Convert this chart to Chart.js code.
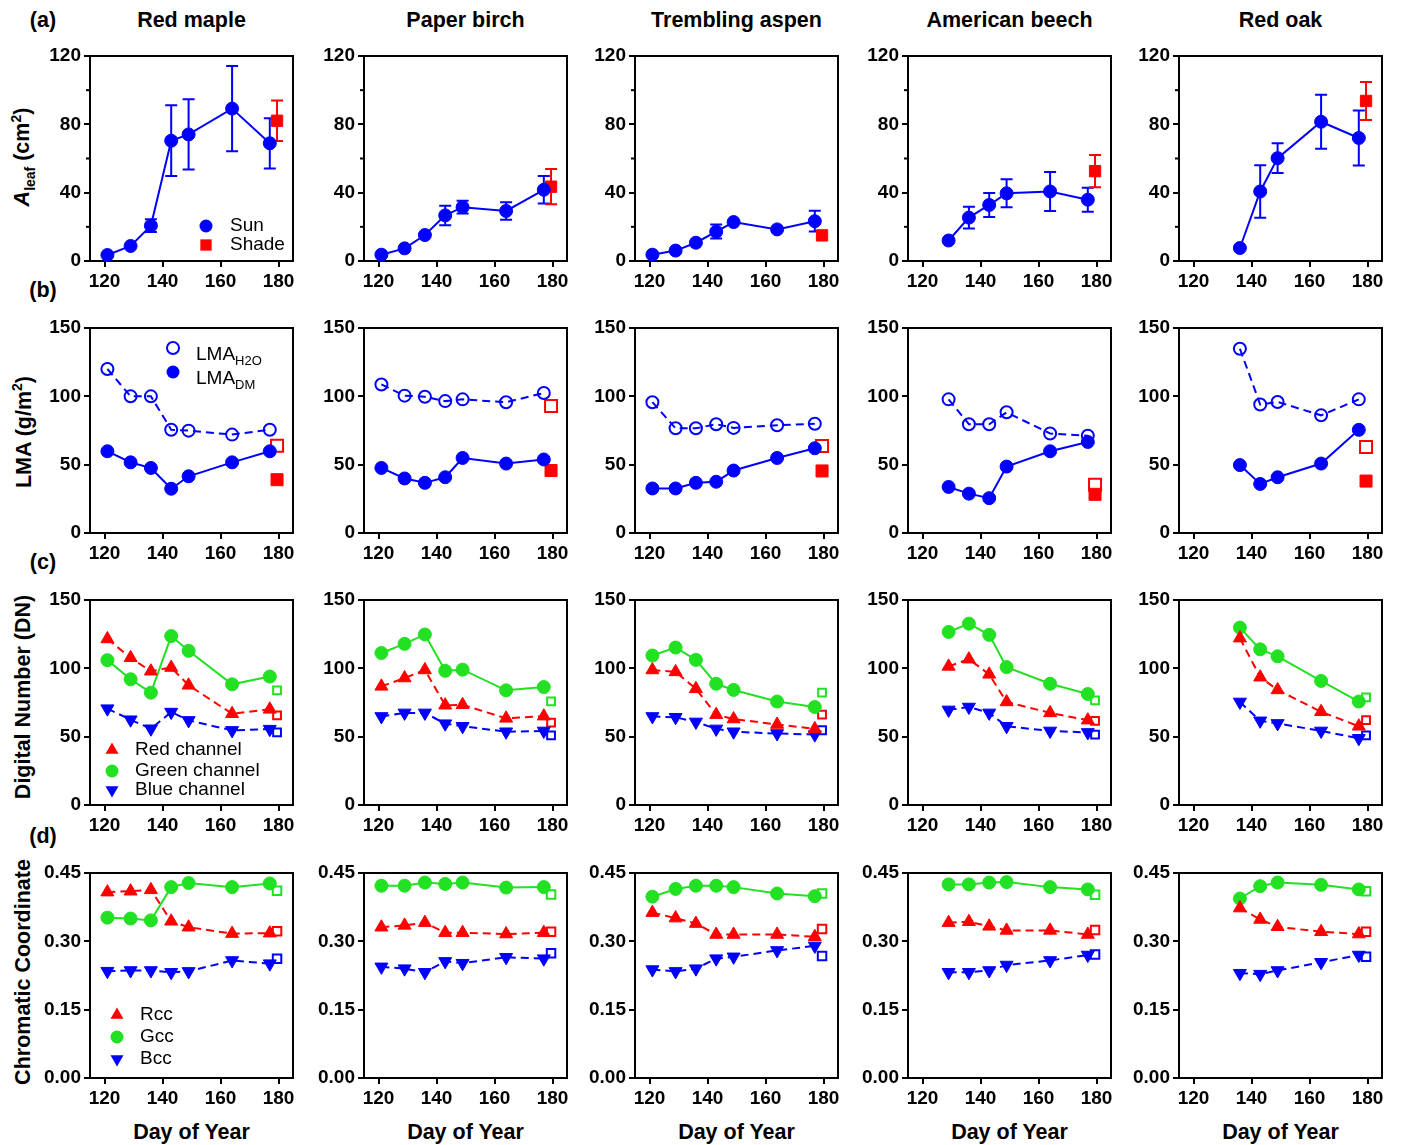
<!DOCTYPE html>
<html>
<head>
<meta charset="utf-8">
<script src="https://cdn.jsdelivr.net/npm/chart.js@4.4.0/dist/chart.umd.min.js"></script>
<style>
  body { margin: 0; background: #fff; width: 1401px; height: 1145px; position: relative; overflow: hidden;
         font-family: 'Liberation Sans', Arial, sans-serif; }
  canvas { position: absolute; }
  .lbl { position: absolute; font-weight: bold; font-size: 21.5px; color: #000; white-space: nowrap;
         transform: translate(-50%, -50%); }
  .ytitle { position: absolute; font-weight: bold; font-size: 21.5px; color: #000; white-space: nowrap;
            transform: translate(-50%, -50%) rotate(-90deg); }
  sub, sup { font-size: 65%; }
</style>
</head>
<body>
<div id="labels"></div>
<script>
const species = ['Red maple', 'Paper birch', 'Trembling aspen', 'American beech', 'Red oak'];
const panelLetters = ['(a)', '(b)', '(c)', '(d)'];

// day of year of the sun-leaf samples, per species
const sunDays = [
  [121, 129, 136, 143, 149, 164, 177],
  [121, 129, 136, 143, 149, 164, 177],
  [121, 129, 136, 143, 149, 164, 177],
  [129, 136, 143, 149, 164, 177],
  [136, 143, 149, 164, 177]
];
const shadeDay = 179.5;

const xTicks = [120, 140, 160, 180];
const aleafTicks = [0, 40, 80, 120];
const aleafMinor = [20, 60, 100];
const lmaTicks = [0, 50, 100, 150];
const dnTicks = [0, 50, 100, 150];
const ccTicks = [0, 0.15, 0.30, 0.45];

// (a) leaf area (cm2)
const aleafSun = [
  [3.5, 8.8, 20.7, 70.4, 74.1, 89.2, 68.9],
  [3.7, 7.4, 15.2, 26.7, 31.5, 29.3, 41.7],
  [3.7, 6.1, 10.7, 17.2, 22.8, 18.5, 23.3],
  [12.0, 25.4, 32.8, 39.6, 40.7, 35.9],
  [7.6, 40.7, 60.2, 81.5, 72.0]
];
const aleafSunErr = [
  [0, 0, 3.7, 20.7, 20.6, 25, 14.7],
  [0, 0, 0, 5.7, 3.7, 5.1, 8],
  [0, 0, 0, 4.1, 0, 0, 6.1],
  [0, 6.4, 7, 8.2, 11.4, 7],
  [0, 15.4, 8.7, 15.8, 16.1]
];
const aleafShade = [82.1, 43.5, 15.0, 52.6, 93.7];
const aleafShadeErr = [11.8, 10.3, 0, 9.4, 11.1];

// (b) LMA (g/m2)
const lmaH2O = [
  [120, 100, 100, 75.6, 74.9, 72, 75.6],
  [108.7, 100.5, 99.7, 96.5, 97.8, 95.7, 102.4],
  [95.7, 76.6, 76.6, 79.6, 76.9, 78.8, 79.9],
  [97.8, 79.6, 79.6, 88.3, 72.8, 71.2],
  [134.8, 94, 95.9, 86.1, 97.8]
];
const lmaDM = [
  [59.8, 51.7, 47.6, 32.4, 41.5, 51.7, 59.8],
  [47.6, 39.9, 36.7, 40.8, 54.9, 50.8, 53.8],
  [32.6, 32.6, 36.7, 37.5, 45.7, 54.9, 62],
  [33.7, 28.8, 25.5, 48.6, 59.8, 66.6],
  [49.7, 35.9, 40.8, 50.8, 75.5]
];
const lmaH2OShade = [63.9, 92.9, 63.6, 35.3, 63];
const lmaDMShade = [39, 45.7, 45.4, 28.3, 38];

// (c) digital numbers
const dnRed = [
  [121.5, 107.7, 97.9, 100.6, 87.6, 66.8, 70],
  [86.8, 92.9, 98.8, 73, 73.3, 63.4, 65],
  [98.8, 97.4, 85, 66.1, 62.9, 58.9, 55.7],
  [101.4, 106.7, 95.6, 75.4, 67.4, 62.1],
  [122.1, 93.5, 84.2, 68.2, 57.6]
];
const dnGreen = [
  [106, 92, 82.2, 123.6, 112.8, 88.3, 94],
  [111.2, 117.9, 124.8, 98.2, 99, 83.9, 86.3],
  [109.4, 115.2, 106.2, 88.7, 84.2, 75.7, 71.7],
  [126.6, 132.7, 124.5, 100.9, 88.7, 81.2],
  [129.8, 113.9, 108.8, 90.8, 75.7]
];
const dnBlue = [
  [70.5, 62.4, 55.8, 68, 61.9, 54.6, 55.5],
  [64.8, 67.4, 67.4, 59.5, 57.6, 53.6, 54.2],
  [64.8, 64.2, 60.8, 55.7, 53.6, 52.3, 51.5],
  [69.6, 71.7, 67.4, 57.6, 54.2, 53.1],
  [75.4, 61.6, 59.7, 54.2, 48.8]
];
const dnRedShade = [65.6, 60.3, 66.1, 61.6, 62.1];
const dnGreenShade = [83.9, 75.9, 82.3, 76.5, 78.8];
const dnBlueShade = [53.1, 51, 54.7, 51.5, 51];

// (d) chromatic coordinates
const ccRed = [
  [0.408, 0.410, 0.413, 0.344, 0.331, 0.317, 0.318],
  [0.331, 0.335, 0.341, 0.319, 0.319, 0.316, 0.319],
  [0.363, 0.351, 0.339, 0.315, 0.315, 0.315, 0.310],
  [0.341, 0.343, 0.333, 0.324, 0.324, 0.315],
  [0.373, 0.348, 0.332, 0.321, 0.316]
];
const ccGreen = [
  [0.352, 0.350, 0.346, 0.419, 0.428, 0.419, 0.427],
  [0.422, 0.422, 0.429, 0.426, 0.429, 0.418, 0.419],
  [0.398, 0.415, 0.422, 0.422, 0.419, 0.405, 0.399],
  [0.425, 0.425, 0.429, 0.430, 0.419, 0.414],
  [0.394, 0.421, 0.429, 0.424, 0.414]
];
const ccBlue = [
  [0.2345, 0.236, 0.236, 0.232, 0.234, 0.258, 0.251],
  [0.244, 0.240, 0.232, 0.256, 0.252, 0.265, 0.262],
  [0.238, 0.234, 0.240, 0.262, 0.266, 0.280, 0.290],
  [0.232, 0.232, 0.236, 0.248, 0.258, 0.270],
  [0.230, 0.228, 0.236, 0.254, 0.270]
];
const ccRedShade = [0.322, 0.321, 0.327, 0.325, 0.321];
const ccGreenShade = [0.411, 0.403, 0.405, 0.402, 0.410];
const ccBlueShade = [0.262, 0.274, 0.268, 0.271, 0.266];

const BLUE = '#0000ff', RED = '#ff0000', GREEN = '#22e022';
const FONT = "'Liberation Sans', Arial, sans-serif";
const DASH = [8, 5];

// layout of the grid (plot area corners)
const plotLefts = [90, 364, 635, 908, 1179];
const plotTops = [56, 328, 600, 873];
const plotW = 203, plotH = 205;
const padL = 55, padT = 12, padR = 15, padB = 34;

Chart.defaults.font.family = FONT;

function drawMarker(ctx, style, x, y, r, color, open, down) {
  ctx.beginPath();
  if (style === 'circle') {
    ctx.arc(x, y, r, 0, Math.PI * 2);
  } else if (style === 'rect') {
    const s = r * Math.SQRT1_2;
    ctx.rect(x - s, y - s, 2 * s, 2 * s);
  } else {
    const d = down ? -1 : 1;
    ctx.moveTo(x, y - d * r);
    ctx.lineTo(x + r * 0.866, y + d * r / 2);
    ctx.lineTo(x - r * 0.866, y + d * r / 2);
    ctx.closePath();
  }
  ctx.lineWidth = 2;
  ctx.strokeStyle = color;
  if (open) {
    ctx.stroke();
  } else {
    ctx.fillStyle = color;
    ctx.fill();
  }
}

// box round the plot area
const framePlugin = {
  id: 'frame',
  beforeDatasetsDraw(chart) {
    const { ctx, chartArea: a } = chart;
    ctx.save();
    ctx.strokeStyle = '#000';
    ctx.lineWidth = 2;
    ctx.strokeRect(a.left, a.top, a.right - a.left, a.bottom - a.top);
    ctx.restore();
  }
};

// short unlabeled ticks on the y axis
const minorTickPlugin = {
  id: 'minorTicks',
  afterDraw(chart, args, opts) {
    if (!opts.values) return;
    const { ctx, chartArea: a } = chart;
    const y = chart.scales.y;
    ctx.save();
    ctx.strokeStyle = '#000';
    ctx.lineWidth = 2;
    opts.values.forEach(v => {
      const py = y.getPixelForValue(v);
      ctx.beginPath();
      ctx.moveTo(a.left - 4, py);
      ctx.lineTo(a.left, py);
      ctx.stroke();
    });
    ctx.restore();
  }
};

// vertical error bars with caps
const errorBarPlugin = {
  id: 'errorBars',
  beforeDatasetsDraw(chart) {
    const { ctx } = chart;
    const y = chart.scales.y;
    chart.data.datasets.forEach((ds, i) => {
      if (!ds.errorBars) return;
      const meta = chart.getDatasetMeta(i);
      ctx.save();
      ctx.strokeStyle = ds.borderColor;
      ctx.lineWidth = 2;
      meta.data.forEach((pt, j) => {
        const e = ds.errorBars[j];
        if (!e) return;
        const v = ds.data[j].y;
        const top = y.getPixelForValue(v + e), bot = y.getPixelForValue(v - e);
        ctx.beginPath();
        ctx.moveTo(pt.x, top); ctx.lineTo(pt.x, bot);
        ctx.moveTo(pt.x - 6, top); ctx.lineTo(pt.x + 6, top);
        ctx.moveTo(pt.x - 6, bot); ctx.lineTo(pt.x + 6, bot);
        ctx.stroke();
      });
      ctx.restore();
    });
  }
};

// legend drawn inside the plot area
const insideLegendPlugin = {
  id: 'insideLegend',
  afterDraw(chart, args, opts) {
    if (!opts.items) return;
    const { ctx, chartArea: a } = chart;
    ctx.save();
    opts.items.forEach(it => {
      const mx = a.left + opts.markerX, my = a.top + it.y;
      drawMarker(ctx, it.style, mx, my, it.radius, it.color, it.open, it.down);
      ctx.fillStyle = '#000';
      ctx.font = '19px ' + FONT;
      ctx.textBaseline = 'middle';
      ctx.textAlign = 'left';
      const tx = a.left + opts.textX, ty = my + (opts.textDy || 0);
      ctx.fillText(it.label, tx, ty);
      if (it.sub) {
        const w = ctx.measureText(it.label).width;
        ctx.font = '13px ' + FONT;
        ctx.fillText(it.sub, tx + w, ty + 6);
      }
    });
    ctx.restore();
  }
};

function series(days, vals, color, style, extra) {
  return Object.assign({
    data: days.map((d, i) => ({ x: d, y: vals[i] })),
    borderColor: color,
    backgroundColor: color,
    borderWidth: 2,
    pointStyle: style,
    pointRadius: 6.5,
    pointBackgroundColor: color,
    pointBorderColor: color,
    pointBorderWidth: 1,
    showLine: true,
    tension: 0,
    clip: false
  }, extra || {});
}

function makePanel(row, col, datasets, yTicks, yMax, fmt, minor, legend) {
  const cv = document.createElement('canvas');
  const w = padL + plotW + padR, h = padT + plotH + padB;
  cv.width = w; cv.height = h;
  cv.style.width = w + 'px'; cv.style.height = h + 'px';
  cv.style.left = (plotLefts[col] - padL) + 'px';
  cv.style.top = (plotTops[row] - padT) + 'px';
  document.body.appendChild(cv);

  const tickFont = { family: FONT, size: 19, weight: 'bold' };
  const grid = { display: true, drawOnChartArea: false, drawTicks: true, tickLength: 6,
                 tickWidth: 2, tickColor: '#000', color: '#000', lineWidth: 2 };

  new Chart(cv, {
    type: 'line',
    data: { datasets: datasets },
    options: {
      responsive: false,
      animation: false,
      devicePixelRatio: 1,
      events: [],
      layout: { padding: { left: 0, top: padT, right: padR, bottom: 0 } },
      plugins: {
        legend: { display: false },
        tooltip: { enabled: false },
        minorTicks: { values: minor },
        insideLegend: legend || {}
      },
      scales: {
        x: {
          type: 'linear', min: 115, max: 185,
          afterBuildTicks: s => { s.ticks = xTicks.map(v => ({ value: v })); },
          afterFit: s => { s.height = padB; s.paddingLeft = 0; s.paddingRight = 0; },
          grid: grid,
          border: { display: false },
          ticks: { color: '#000', font: tickFont, padding: 3, maxRotation: 0, autoSkip: false,
                   callback: v => String(v) }
        },
        y: {
          type: 'linear', min: 0, max: yMax,
          afterBuildTicks: s => { s.ticks = yTicks.map(v => ({ value: v })); },
          afterFit: s => { s.width = padL; s.paddingTop = 0; s.paddingBottom = 0; },
          grid: grid,
          border: { display: false },
          ticks: { color: '#000', font: tickFont, padding: 3, autoSkip: false, callback: fmt }
        }
      }
    },
    plugins: [framePlugin, minorTickPlugin, errorBarPlugin, insideLegendPlugin]
  });
}

const intFmt = v => String(v);
const ccFmt = v => v.toFixed(2);

species.forEach((name, c) => {
  const days = sunDays[c];

  // (a) leaf area
  makePanel(0, c, [
    series(days, aleafSun[c], BLUE, 'circle', { errorBars: aleafSunErr[c] }),
    series([shadeDay], [aleafShade[c]], RED, 'rect', { showLine: false, pointRadius: 8, errorBars: [aleafShadeErr[c]] })
  ], aleafTicks, 120, intFmt, aleafMinor, c === 0 ? {
    markerX: 116, textX: 140,
    items: [
      { style: 'circle', radius: 6.5, color: BLUE, label: 'Sun', y: 170 },
      { style: 'rect', radius: 8, color: RED, label: 'Shade', y: 189 }
    ]
  } : null);

  // (b) LMA
  makePanel(1, c, [
    series(days, lmaH2O[c], BLUE, 'circle', { borderDash: DASH, pointRadius: 6, pointBorderWidth: 2,
                                               pointBackgroundColor: 'rgba(0,0,0,0)' }),
    series(days, lmaDM[c], BLUE, 'circle', {}),
    series([shadeDay], [lmaH2OShade[c]], RED, 'rect', { showLine: false, pointRadius: 8.5, pointBorderWidth: 2,
                                                       pointBackgroundColor: 'rgba(0,0,0,0)' }),
    series([shadeDay], [lmaDMShade[c]], RED, 'rect', { showLine: false, pointRadius: 8.5 })
  ], lmaTicks, 150, intFmt, null, c === 0 ? {
    markerX: 83, textX: 106, textDy: 7,
    items: [
      { style: 'circle', radius: 6, color: BLUE, open: true, label: 'LMA', sub: 'H2O', y: 20 },
      { style: 'circle', radius: 6.5, color: BLUE, label: 'LMA', sub: 'DM', y: 44 }
    ]
  } : null);

  // (c) digital number
  const openSq = (val, color, r) => series([shadeDay], [val], color, 'rect',
    { showLine: false, pointRadius: r, pointBorderWidth: 2, pointBackgroundColor: 'rgba(0,0,0,0)' });
  makePanel(2, c, [
    series(days, dnRed[c], RED, 'triangle', { borderDash: DASH, pointRadius: 7.5 }),
    series(days, dnGreen[c], GREEN, 'circle', {}),
    series(days, dnBlue[c], BLUE, 'triangle', { borderDash: DASH, pointRadius: 7.5, pointRotation: 180 }),
    openSq(dnRedShade[c], RED, 5.5),
    openSq(dnGreenShade[c], GREEN, 5.5),
    openSq(dnBlueShade[c], BLUE, 5.5)
  ], dnTicks, 150, intFmt, null, c === 0 ? {
    markerX: 22, textX: 45,
    items: [
      { style: 'triangle', radius: 7.5, color: RED, label: 'Red channel', y: 150 },
      { style: 'circle', radius: 6.5, color: GREEN, label: 'Green channel', y: 171 },
      { style: 'triangle', radius: 7.5, color: BLUE, down: true, label: 'Blue channel', y: 190 }
    ]
  } : null);

  // (d) chromatic coordinates
  makePanel(3, c, [
    series(days, ccRed[c], RED, 'triangle', { borderDash: DASH, pointRadius: 7.5 }),
    series(days, ccGreen[c], GREEN, 'circle', {}),
    series(days, ccBlue[c], BLUE, 'triangle', { borderDash: DASH, pointRadius: 7.5, pointRotation: 180 }),
    openSq(ccRedShade[c], RED, 6),
    openSq(ccGreenShade[c], GREEN, 6),
    openSq(ccBlueShade[c], BLUE, 6)
  ], ccTicks, 0.45, ccFmt, null, c === 0 ? {
    markerX: 27, textX: 50,
    items: [
      { style: 'triangle', radius: 7.5, color: RED, label: 'Rcc', y: 142 },
      { style: 'circle', radius: 6.5, color: GREEN, label: 'Gcc', y: 164 },
      { style: 'triangle', radius: 7.5, color: BLUE, down: true, label: 'Bcc', y: 186 }
    ]
  } : null);
});

// text round the grid
const labels = document.getElementById('labels');
function addText(cls, html, x, y) {
  const d = document.createElement('div');
  d.className = cls;
  d.innerHTML = html;
  d.style.left = x + 'px';
  d.style.top = y + 'px';
  labels.appendChild(d);
}
const letterY = [20, 290, 562, 836];
panelLetters.forEach((t, r) => addText('lbl', t, 43, letterY[r]));
species.forEach((name, c) => {
  const cx = plotLefts[c] + plotW / 2;
  addText('lbl', name, cx, 20);
  addText('lbl', 'Day of Year', cx, 1132);
});
addText('ytitle', '<i>A</i><sub>leaf</sub> (cm<sup>2</sup>)', 23, 157);
addText('ytitle', 'LMA (g/m<sup>2</sup>)', 23, 432);
addText('ytitle', 'Digital Number (DN)', 23, 697);
addText('ytitle', 'Chromatic Coordinate', 23, 972);
</script>
</body>
</html>
